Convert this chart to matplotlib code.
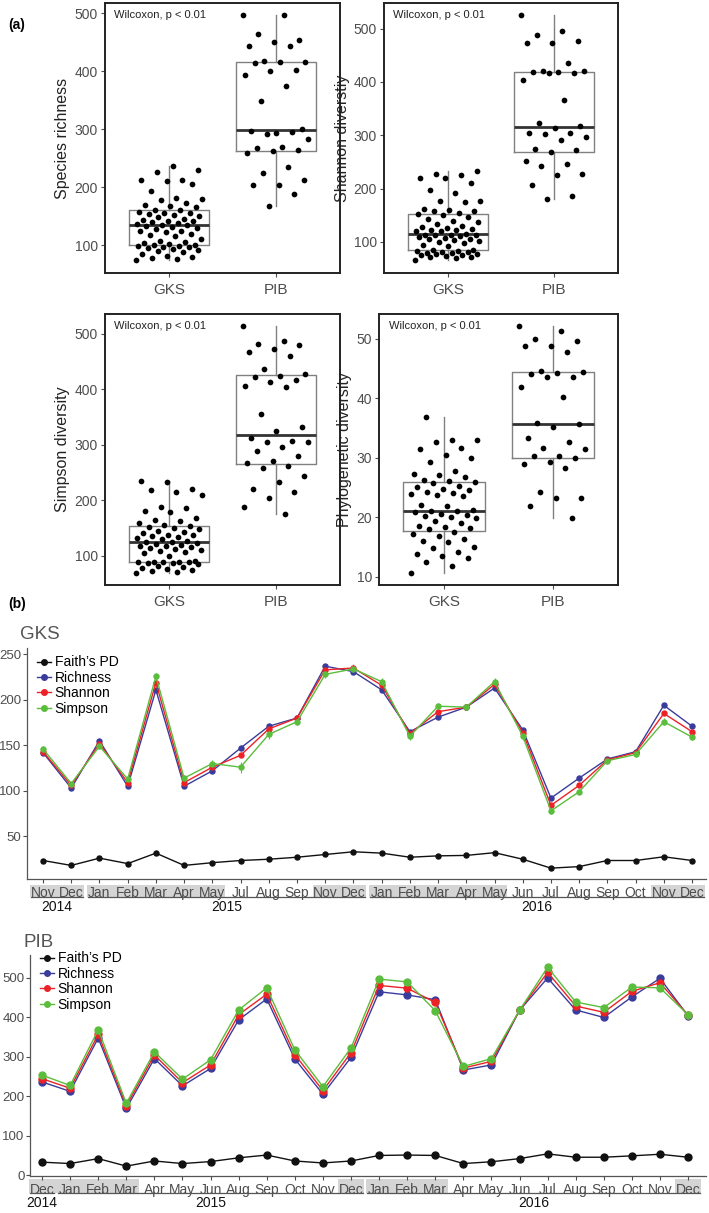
import matplotlib

matplotlib.use("Agg")
import matplotlib.pyplot as plt
import matplotlib.transforms as mtransforms
from matplotlib.patches import Rectangle
from matplotlib.lines import Line2D
import numpy as np

plt.rcParams["font.family"] = ["Liberation Sans", "DejaVu Sans"]

GREY_TXT = "#4d4d4d"

# ---- (a) alpha diversity per site ----
groups = ["GKS", "PIB"]

rich_gks = [75, 76, 78, 80, 82, 85, 88, 90, 92, 93, 95, 96, 97, 98, 99, 100, 100, 102,
            104, 105, 107, 110, 115, 118, 120, 122, 124, 125, 128, 130, 132, 133, 134,
            135, 137, 138, 140, 141, 142, 143, 145, 148, 150, 152, 154, 155, 156, 157,
            160, 161, 165, 168, 170, 172, 178, 180, 181, 193, 205, 210, 212, 212, 226,
            230, 237]
rich_pib = [498, 498, 464, 455, 450, 444, 444, 418, 416, 416, 415, 402, 400, 393, 374,
            349, 300, 293, 297, 296, 292, 283, 270, 268, 264, 262, 259, 235, 225, 212,
            203, 203, 188, 168]

shan_gks = [67, 70, 72, 72, 73, 75, 76, 77, 78, 80, 80, 81, 82, 83, 84, 85, 85, 93, 95,
            98, 100, 101, 103, 105, 106, 108, 110, 112, 113, 113, 114, 114, 115, 120, 121,
            122, 123, 125, 127, 128, 130, 133, 138, 140, 144, 147, 150, 152, 155, 158,
            158, 160, 162, 175, 176, 177, 192, 197, 210, 220, 220, 226, 228, 233]
shan_pib = [525, 496, 488, 476, 474, 474, 435, 421, 420, 418, 418, 416, 416, 404, 367,
            323, 317, 314, 304, 304, 303, 296, 292, 274, 272, 268, 252, 247, 243, 227,
            225, 206, 187, 181]

simp_gks = [68, 70, 72, 74, 76, 78, 80, 82, 84, 86, 87, 88, 88, 89, 89, 89, 90, 100, 104,
            107, 108, 110, 112, 114, 115, 117, 118, 120, 121, 123, 124, 125, 127, 130,
            132, 134, 135, 137, 138, 140, 142, 145, 148, 150, 152, 154, 155, 158, 162,
            164, 168, 178, 180, 186, 188, 210, 215, 218, 220, 232, 235]
simp_pib = [513, 486, 482, 479, 472, 467, 459, 436, 428, 424, 421, 417, 412, 405, 404,
            356, 331, 324, 311, 307, 305, 305, 296, 288, 280, 271, 266, 261, 257, 243,
            233, 220, 215, 204, 188, 175]

pd_gks = [10.6, 11.8, 12.5, 13.1, 13.5, 13.8, 14.2, 14.8, 15.0, 15.8, 16.0, 16.3, 16.8,
          17.2, 17.5, 18.0, 18.2, 18.4, 18.5, 19.0, 19.3, 19.8, 20.0, 20.2, 20.4, 20.6,
          20.8, 21.0, 21.0, 21.2, 21.8, 22.0, 23.5, 23.7, 23.9, 24.0, 24.2, 24.6, 24.8,
          25.0, 25.3, 25.7, 25.9, 26.0, 26.2, 26.8, 27.0, 27.2, 27.7, 29.3, 30.0, 30.4,
          31.5, 31.7, 32.6, 32.9, 33.0, 36.8]
pd_pib = [52.1, 51.2, 49.9, 49.6, 48.7, 48.7, 47.8, 44.6, 44.4, 44.2, 44.0, 43.6, 43.5,
          41.9, 40.2, 35.9, 35.6, 35.1, 33.3, 32.7, 31.7, 31.4, 30.3, 30.2, 29.9, 29.3,
          28.9, 28.3, 24.2, 23.3, 23.2, 21.9, 19.9]

# ---- (b) monthly time series ----
gks_months = ["Nov", "Dec", "Jan", "Feb", "Mar", "Apr", "May", "Jul", "Aug", "Sep", "Nov",
              "Dec", "Jan", "Feb", "Mar", "Apr", "May", "Jun", "Jul", "Aug", "Sep", "Oct",
              "Nov", "Dec"]
gks_years = [("2014", 0, 1), ("2015", 2, 11), ("2016", 12, 23)]
gks_shade = [(0, 1), (2, 6), (10, 11), (12, 16), (22, 23)]
gks_faith = [23.4, 18, 26, 20, 31.5, 18, 21, 23.4, 24.8, 27, 30, 33, 31.5, 27, 28.5, 29,
             32, 24.8, 15, 16.7, 23.4, 23.4, 27.5, 23.4]
gks_rich = [142, 103, 155, 105, 211, 105, 122, 147, 171, 180, 237, 231, 211, 165, 181,
            192, 213, 167, 92, 114, 135, 143, 194, 171]
gks_shan = [143, 106, 152, 109, 219, 109, 126, 139, 168, 180, 233, 235, 216, 163, 187,
            192, 217, 164, 84, 106, 134, 142, 185, 165]
gks_simp = [146, 108, 149, 113, 226, 114, 130, 126, 162, 176, 228, 234, 220, 160, 193,
            192, 220, 160, 78, 99, 133, 140, 176, 159]
gks_simp_err = [3, 2, 3, 3, 4, 3, 4, 6, 5, 4, 4, 5, 4, 4, 4, 3, 4, 4, 4, 3, 3, 3, 4, 3]

pib_months = ["Dec", "Jan", "Feb", "Mar", "Apr", "May", "Jun", "Aug", "Sep", "Oct", "Nov",
              "Dec", "Jan", "Feb", "Mar", "Apr", "May", "Jun", "Jul", "Aug", "Sep", "Oct",
              "Nov", "Dec"]
pib_years = [("2014", 0, 0), ("2015", 1, 11), ("2016", 12, 23)]
pib_shade = [(0, 3), (11, 11), (12, 14), (23, 23)]
pib_faith = [33, 29.5, 42, 23, 36, 29.5, 34.5, 44, 51, 36, 31, 36, 50, 51, 50, 29.5, 34,
             42, 54, 45.5, 45.5, 49, 53, 45.5]
pib_rich = [236, 212, 347, 169, 295, 226, 270, 393, 446, 294, 205, 298, 464, 456, 444,
            266, 279, 417, 499, 418, 399, 451, 498, 403]
pib_shan = [244, 220, 356, 176, 304, 234, 279, 406, 458, 305, 214, 310, 480, 473, 437,
            271, 288, 417, 513, 428, 412, 465, 487, 405]
pib_simp = [253, 227, 368, 182, 312, 243, 292, 418, 474, 317, 224, 322, 496, 489, 416,
            275, 295, 417, 526, 438, 424, 476, 474, 406]

C_FAITH = "#111111"
C_RICH = "#3a3c9c"
C_SHAN = "#ec2227"
C_SIMP = "#5bbd3c"

fig = plt.figure(figsize=(7.09, 12.13), dpi=100)

box_panels = [
    ([0.148, 0.775, 0.3315, 0.2225], rich_gks, rich_pib, "Species richness", (52, 518), [100, 200, 300, 400, 500]),
    ([0.5416, 0.775, 0.3301, 0.2225], shan_gks, shan_pib, "Shannon diverstiy", (42, 548), [100, 200, 300, 400, 500]),
    ([0.148, 0.5177, 0.3315, 0.2233], simp_gks, simp_pib, "Simpson diversity", (47, 535), [100, 200, 300, 400, 500]),
    ([0.5346, 0.5177, 0.3371, 0.2233], pd_gks, pd_pib, "Phylogenetic diversity", (8.6, 54.1), [10, 20, 30, 40, 50]),
]

for rect, a, b, label, ylim, ticks in box_panels:
    ax = fig.add_axes(rect)
    ax.boxplot([a, b], positions=[1, 2], widths=0.75, showfliers=False,
               boxprops=dict(color="#808080", linewidth=1.0),
               whiskerprops=dict(color="#808080", linewidth=1.0),
               capprops=dict(linewidth=0),
               medianprops=dict(color="#333333", linewidth=2.0))
    for pos, vals in zip([1, 2], [a, b]):
        n = len(vals)
        jit = ((np.arange(n) * 0.618034) % 1.0 - 0.5) * 0.62
        ax.scatter(pos + jit, vals, s=17, color="black", zorder=3, linewidths=0)
    ax.set_xlim(0.4, 2.6)
    ax.set_ylim(*ylim)
    ax.set_yticks(ticks)
    ax.set_xticks([1, 2])
    ax.set_xticklabels(groups)
    ax.tick_params(axis="y", labelsize=10, colors=GREY_TXT, length=3, width=0.8, pad=2)
    ax.tick_params(axis="x", labelsize=11, colors=GREY_TXT, length=3, width=0.8, pad=4)
    ax.set_ylabel(label, fontsize=11.5, color="#222222", labelpad=3)
    for sp in ax.spines.values():
        sp.set_linewidth(1.4)
        sp.set_color("#222222")
    ax.text(0.04, 0.975, "Wilcoxon, p < 0.01", transform=ax.transAxes, fontsize=8,
            va="top", ha="left", color="#222222")

fig.text(0.012, 0.985, "(a)", fontsize=10, fontweight="bold", va="top")
fig.text(0.012, 0.508, "(b)", fontsize=10, fontweight="bold", va="top")


def series_panel(rect, title, months, years, shade, faith, rich, shan, simp, ylim, ticks,
                 ms, xlim, band, leg_y, simp_err=None):
    ax = fig.add_axes(rect)
    x = np.arange(len(months))
    ax.plot(x, faith, "-o", color=C_FAITH, ms=ms, lw=1.0, zorder=4)
    ax.plot(x, rich, "-o", color=C_RICH, ms=ms, lw=1.0, zorder=3)
    ax.plot(x, shan, "-o", color=C_SHAN, ms=ms, lw=1.0, zorder=3)
    ax.plot(x, simp, "-o", color=C_SIMP, ms=ms, lw=1.0, zorder=3)
    if simp_err is not None:
        ax.errorbar(x, simp, yerr=simp_err, fmt="none", ecolor=C_SIMP, elinewidth=0.8, zorder=2)
    ax.set_xlim(*xlim)
    ax.set_ylim(*ylim)
    ax.set_yticks(ticks)
    ax.set_xticks(x)
    ax.set_xticklabels(months)
    ax.tick_params(axis="y", labelsize=9.5, colors=GREY_TXT, length=3, width=0.8, pad=1)
    ax.tick_params(axis="x", labelsize=10, colors=GREY_TXT, length=3, width=0.8, pad=2)
    for s in ["top", "right"]:
        ax.spines[s].set_visible(False)
    for s in ["left", "bottom"]:
        ax.spines[s].set_color("#555555")
        ax.spines[s].set_linewidth(0.9)
    trans = mtransforms.blended_transform_factory(ax.transData, ax.transAxes)
    for i0, i1 in shade:
        ax.add_patch(Rectangle((i0 - 0.45, band[0]), i1 - i0 + 0.9, band[1] - band[0],
                               transform=trans, clip_on=False, facecolor="#d4d4d4",
                               edgecolor="none", zorder=0))
    for yr, i0, i1 in years:
        ax.plot([i0 - 0.42, i1 + 0.42], [band[0], band[0]], transform=trans, clip_on=False,
                color="#555555", lw=0.9)
        ax.text((i0 + i1) / 2, band[0] - 0.012, yr, transform=trans, ha="center", va="top",
                fontsize=10, color="#111111")
    ax.text(-0.01, 1.02, title, transform=ax.transAxes, fontsize=13.5, color="#555555",
            ha="left", va="bottom")
    handles = [Line2D([0], [0], color=c, marker="o", ms=4, lw=1.0)
               for c in [C_FAITH, C_RICH, C_SHAN, C_SIMP]]
    ax.legend(handles, ["Faith\u2019s PD", "Richness", "Shannon", "Simpson"],
              loc="upper left", bbox_to_anchor=(0.0, leg_y), frameon=False, fontsize=10,
              handlelength=1.0, handletextpad=0.3, labelspacing=0.1, borderaxespad=0.3)
    return ax


series_panel([0.038, 0.2753, 0.958, 0.1905], "GKS", gks_months, gks_years, gks_shade,
             gks_faith, gks_rich, gks_shan, gks_simp, (3, 257), [50, 100, 150, 200, 250],
             3.6, (-0.57, 23.5), (-0.078, -0.026), 1.01, simp_err=gks_simp_err)

series_panel([0.0423, 0.0305, 0.9535, 0.1822], "PIB", pib_months, pib_years, pib_shade,
             pib_faith, pib_rich, pib_shan, pib_simp, (-2, 557), [0, 100, 200, 300, 400, 500],
             5.0, (-0.43, 23.64), (-0.077, -0.014), 1.06)

fig.savefig("out.png", dpi=100)
